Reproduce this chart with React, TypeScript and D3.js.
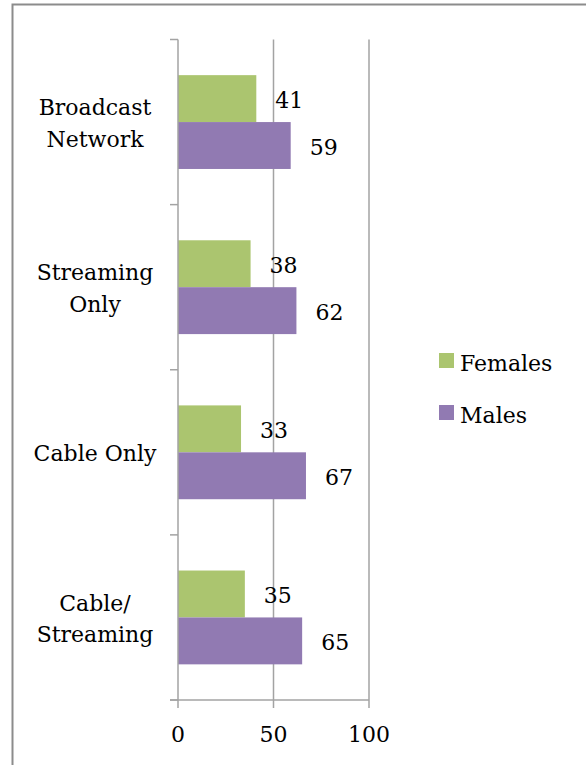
import React from "react";
import * as d3 from "d3";

// --- Data ---
const categories = ["Broadcast Network", "Streaming Only", "Cable Only", "Cable/ Streaming"];
const categoryLines = [["Broadcast", "Network"], ["Streaming", "Only"], ["Cable Only"], ["Cable/", "Streaming"]];
const seriesNames = ["Females", "Males"];
const females = [41, 38, 33, 35];
const males = [59, 62, 67, 65];
const xTicks = [0, 50, 100];

const colors: Record<string, string> = { Females: "#abc56f", Males: "#917ab2" };
const FONT = "'DejaVu Serif', serif";
const AXIS = "#a3a3a3";

const App: React.FC = () => {
  const width = 586;
  const height = 765;

  const x = d3.scaleLinear().domain([0, 100]).range([178, 369]);
  const y = d3.scaleBand<string>().domain(categories).range([39.5, 700]).paddingInner(0);
  const ySub = d3
    .scaleBand<string>()
    .domain(seriesNames)
    .range([0, y.bandwidth()])
    .paddingInner(0)
    .paddingOuter(0.76);

  const values: Record<string, number[]> = { Females: females, Males: males };
  const [y0, y1] = y.range();
  const boundaries = [...categories.map((c) => y(c)!), y1];

  return (
    <svg
      width={width}
      height={height}
      style={{ position: "absolute", left: 0, top: 0, background: "#fff" }}
    >
      {/* outer frame */}
      <rect x={12.5} y={4.5} width={width + 10} height={height + 10} fill="none" stroke="#8c8c8c" strokeWidth={2} />

      {/* gridlines */}
      {xTicks.slice(1).map((t) => (
        <line key={"g" + t} x1={x(t)} x2={x(t)} y1={y0} y2={y1 + 8} stroke={AXIS} strokeWidth={1.5} />
      ))}

      {/* bars */}
      {categories.map((c, i) =>
        seriesNames.map((s) => {
          const v = values[s][i];
          const by = y(c)! + ySub(s)!;
          return (
            <g key={c + s}>
              <rect x={x(0)} y={by} width={x(v) - x(0)} height={ySub.bandwidth()} fill={colors[s]} />
              <text
                x={x(v) + 33}
                y={by + ySub.bandwidth() / 2 + 9}
                textAnchor="middle"
                fontFamily={FONT}
                fontSize={22}
                fill="#000"
              >
                {v}
              </text>
            </g>
          );
        })
      )}

      {/* y axis */}
      <line x1={x(0)} x2={x(0)} y1={y0} y2={y1 + 8} stroke={AXIS} strokeWidth={1.5} />
      {boundaries.map((b, i) => (
        <line key={"yt" + i} x1={x(0) - 8} x2={x(0)} y1={b} y2={b} stroke={AXIS} strokeWidth={1.5} />
      ))}
      {/* x axis */}
      <line x1={x(0) - 8} x2={x(100)} y1={y1} y2={y1} stroke={AXIS} strokeWidth={1.5} />

      {/* x tick labels */}
      {xTicks.map((t) => (
        <text key={"xl" + t} x={x(t)} y={742} textAnchor="middle" fontFamily={FONT} fontSize={22} fill="#000">
          {t}
        </text>
      ))}

      {/* category labels */}
      {categories.map((c, i) => {
        const lines = categoryLines[i];
        const cy = y(c)! + y.bandwidth() / 2;
        const lh = 31.5;
        const start = cy - ((lines.length - 1) * lh) / 2 + 9;
        return (
          <text key={"cl" + c} textAnchor="middle" fontFamily={FONT} fontSize={22} fill="#000">
            {lines.map((l, j) => (
              <tspan key={j} x={95} y={start + j * lh}>
                {l}
              </tspan>
            ))}
          </text>
        );
      })}

      {/* legend */}
      {seriesNames.map((s, i) => (
        <g key={"lg" + s} transform={`translate(439, ${353 + i * 52})`}>
          <rect x={0} y={0} width={15} height={15} fill={colors[s]} />
          <text x={21} y={17.5} fontFamily={FONT} fontSize={22} fill="#000">
            {s}
          </text>
        </g>
      ))}
    </svg>
  );
};

export default App;
